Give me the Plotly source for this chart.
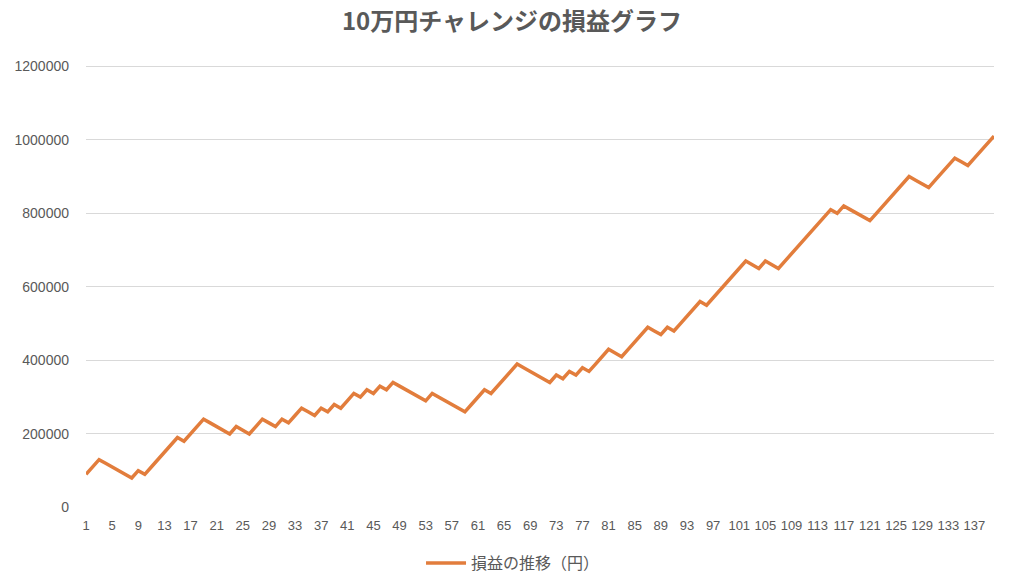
import plotly.graph_objects as go

title_text = "10万円チャレンジの損益グラフ"
series_name = "損益の推移（円）"

# trade number (category) 1..140
trades = list(range(1, 141))

# cumulative profit/loss (yen)
profit = [
    90000, 110000, 130000, 120000, 110000, 100000, 90000, 80000, 100000, 90000,
    110000, 130000, 150000, 170000, 190000, 180000, 200000, 220000, 240000, 230000,
    220000, 210000, 200000, 220000, 210000, 200000, 220000, 240000, 230000, 220000,
    240000, 230000, 250000, 270000, 260000, 250000, 270000, 260000, 280000, 270000,
    290000, 310000, 300000, 320000, 310000, 330000, 320000, 340000, 330000, 320000,
    310000, 300000, 290000, 310000, 300000, 290000, 280000, 270000, 260000, 280000,
    300000, 320000, 310000, 330000, 350000, 370000, 390000, 380000, 370000, 360000,
    350000, 340000, 360000, 350000, 370000, 360000, 380000, 370000, 390000, 410000,
    430000, 420000, 410000, 430000, 450000, 470000, 490000, 480000, 470000, 490000,
    480000, 500000, 520000, 540000, 560000, 550000, 570000, 590000, 610000, 630000,
    650000, 670000, 660000, 650000, 670000, 660000, 650000, 670000, 690000, 710000,
    730000, 750000, 770000, 790000, 810000, 800000, 820000, 810000, 800000, 790000,
    780000, 800000, 820000, 840000, 860000, 880000, 900000, 890000, 880000, 870000,
    890000, 910000, 930000, 950000, 940000, 930000, 950000, 970000, 990000, 1010000,
]

x_tick_vals = list(range(1, 141, 4))
x_tick_text = [str(v) for v in x_tick_vals]
y_tick_vals = [0, 200000, 400000, 600000, 800000, 1000000, 1200000]
y_tick_text = [str(v) for v in y_tick_vals]

font_num = "Liberation Sans, Noto Sans CJK JP, sans-serif"
font_jp = "Noto Sans CJK JP, sans-serif"
gray = "#595959"

fig = go.Figure()
fig.add_trace(go.Scatter(
    x=trades, y=profit, mode="lines", name=series_name,
    line=dict(color="#E27D3C", width=3.5),
))

fig.update_layout(
    width=1024, height=576,
    paper_bgcolor="white", plot_bgcolor="white",
    margin=dict(l=86, r=30, t=64, b=68),
    title=dict(
        text="<b>" + title_text + "</b>", x=0.5, xanchor="center",
        y=1 - 22 / 576, yanchor="middle", yref="container",
        font=dict(family=font_jp, size=24, color=gray),
    ),
    showlegend=True,
    legend=dict(
        orientation="h", x=0.501, xanchor="center", xref="container",
        y=1 - 563 / 576, yanchor="middle", yref="container",
        font=dict(family=font_jp, size=16, color=gray),
        itemwidth=40,
    ),
    xaxis=dict(
        range=[1, 140], tickmode="array", tickvals=x_tick_vals,
        ticktext=x_tick_text, tickangle=0, showgrid=False, zeroline=False,
        showline=False, ticks="", ticklabelstandoff=8,
        tickfont=dict(family=font_num, size=13, color=gray),
    ),
    yaxis=dict(
        range=[-1500, 1206000], tickmode="array", tickvals=y_tick_vals,
        ticktext=y_tick_text, showgrid=True, gridcolor="#D9D9D9",
        gridwidth=1, zeroline=False, showline=False, ticks="",
        ticklabelstandoff=16,
        tickfont=dict(family=font_num, size=14, color=gray),
    ),
)

fig.write_html("out.html", config={"displayModeBar": False},
               post_script="document.body.style.margin='0';")
